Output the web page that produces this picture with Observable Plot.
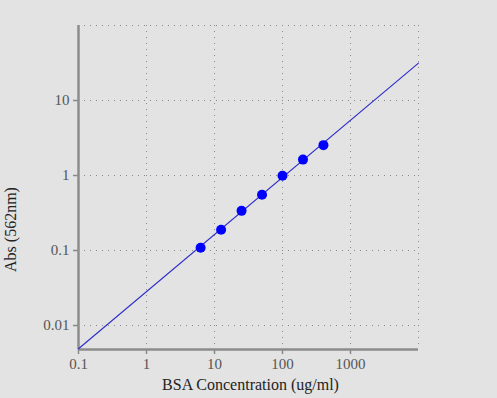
<!DOCTYPE html>
<html>
<head>
<meta charset="utf-8">
<script src="https://cdn.jsdelivr.net/npm/d3@7"></script>
<script src="https://cdn.jsdelivr.net/npm/@observablehq/plot@0.6"></script>
<style>
  html, body { margin: 0; padding: 0; background: #e3e3e3; }
  #chart { width: 497px; height: 398px; }
  #chart svg text { font-family: "Liberation Serif", "DejaVu Serif", serif; }
</style>
</head>
<body>
<div id="chart"></div>
<script>
// Data
const concentration = [6.25, 12.5, 25, 50, 100, 200, 400];
const absorbance = [0.109, 0.189, 0.338, 0.553, 0.99, 1.63, 2.54];
// Fitted standard curve (power fit) endpoints
const fitX = [0.1, 10000];
const fitY = [0.00489, 31.5];
// Axis ticks
const xTicks = [0.1, 1, 10, 100, 1000];
const xTickLabels = ["0.1", "1", "10", "100", "1000"];
const yTicks = [0.01, 0.1, 1, 10];
const yTickLabels = ["0.01", "0.1", "1", "10"];
const xGrid = [1, 10, 100, 1000, 10000];
const yGrid = [0.01, 0.1, 1, 10, 100];
const xLabel = "BSA Concentration (ug/ml)";
const yLabel = "Abs (562nm)";

const points = concentration.map((c, i) => ({x: c, y: absorbance[i]}));
const fit = fitX.map((x, i) => ({x, y: fitY[i]}));
const xTickData = xTicks.map((v, i) => ({v, label: xTickLabels[i]}));
const yTickData = yTicks.map((v, i) => ({v, label: yTickLabels[i]}));

const font = '"Liberation Serif", "DejaVu Serif", serif';
const yMin = 0.00479;

const chart = Plot.plot({
  width: 497,
  height: 398,
  marginLeft: 78,
  marginRight: 79,
  marginTop: 25,
  marginBottom: 49,
  style: {background: "#e3e3e3", fontFamily: font, fontSize: "14px"},
  x: {type: "log", domain: [0.1, 10000], range: [78, 418]},
  y: {type: "log", domain: [yMin, 100], range: [349, 25]},
  marks: [
    Plot.ruleX(xGrid, {stroke: "#8a8a8a", strokeDasharray: "1,5", strokeWidth: 1}),
    Plot.ruleY(yGrid, {stroke: "#8a8a8a", strokeDasharray: "1,5", strokeWidth: 1}),
    Plot.axisX({ticks: xTicks, tickFormat: () => "", tickSize: 5, stroke: "#888", strokeWidth: 1.5, label: null}),
    Plot.axisY({ticks: yTicks, tickFormat: () => "", tickSize: 5, stroke: "#888", strokeWidth: 1.5, label: null}),
    Plot.ruleX([0.1], {stroke: "#8c8c8c", strokeWidth: 2.5}),
    Plot.ruleY([yMin], {stroke: "#8c8c8c", strokeWidth: 2.5}),
    Plot.text(xTickData, {x: "v", y: yMin, text: "label", dy: 15, fontSize: 15, fill: "#555", fontFamily: font}),
    Plot.text(yTickData, {y: "v", x: 0.1, text: "label", dx: -9, textAnchor: "end", fontSize: 15, fill: "#555", fontFamily: font}),
    Plot.line(fit, {x: "x", y: "y", stroke: "#3030cc", strokeWidth: 1.2}),
    Plot.dot(points, {x: "x", y: "y", r: 5, fill: "#0000ff", stroke: "none"}),
    Plot.text([xLabel], {frameAnchor: "bottom", lineAnchor: "middle", dy: 35, dx: 2, fontSize: 16, fill: "#222", fontFamily: font, text: d => d}),
    Plot.text([yLabel], {frameAnchor: "left", textAnchor: "middle", lineAnchor: "middle", dx: -68, dy: 42, rotate: -90, fontSize: 16, fill: "#222", fontFamily: font, text: d => d})
  ]
});
document.getElementById("chart").appendChild(chart);
</script>
</body>
</html>
